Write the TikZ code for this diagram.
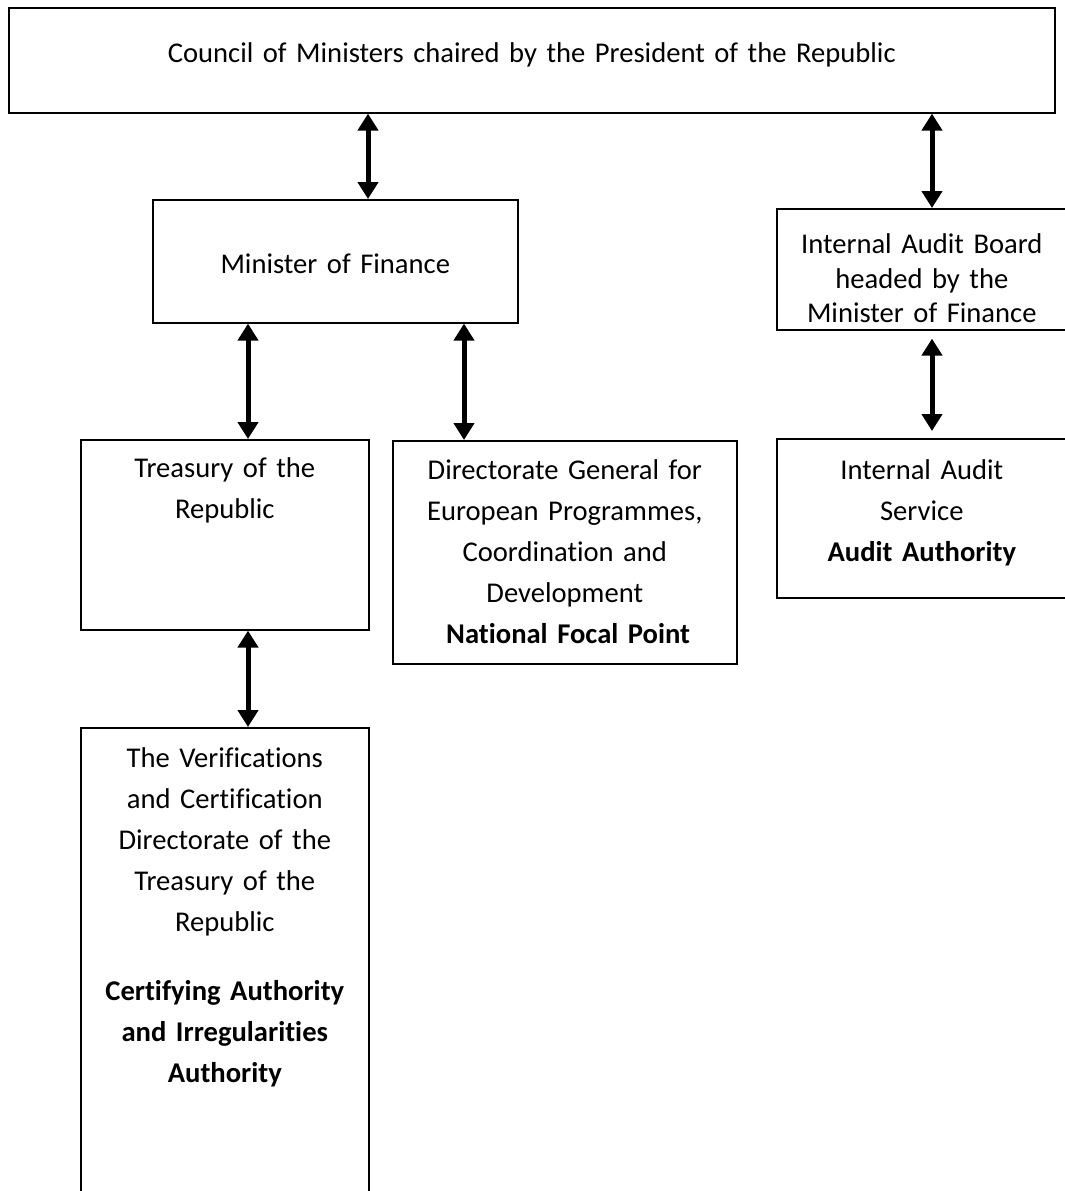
\documentclass[tikz,border=0pt]{standalone}
\usepackage{fontspec}
\setmainfont{Carlito}[Ligatures=NoCommon]
\usetikzlibrary{arrows.meta}

\begin{document}
\begin{tikzpicture}[x=0.5pt,y=-0.5pt,
	orgbox/.style={draw,line width=0.8pt,inner sep=0pt,align=center,anchor=north west,
		font=\fontsize{14.3}{20.5}\selectfont},
	link/.style={{Triangle[width=10pt,length=8.5pt]}-{Triangle[width=10pt,length=8.5pt]},line width=2.5pt}]
		\useasboundingbox (0,0) rectangle (1065,1191);
		\node at (8,7) [orgbox,text width=523pt,text height=27.5pt,text depth=25pt] (council) {Council of Ministers chaired by the President of the Republic};
		\node at (152,199) [orgbox,text width=182.5pt,text height=37pt,text depth=24.5pt] (minister) {Minister of Finance};
		\node at (776,208) [orgbox,text width=145pt,text height=22.5pt,text depth=38pt,font=\fontsize{14.3}{17.25}\selectfont] (board) {Internal Audit Board\\headed by the\\Minister of Finance};
		\node at (80,439) [orgbox,text width=144pt,text height=19pt,text depth=76pt] (treasury) {Treasury of the\\Republic};
		\node at (392,440) [orgbox,text width=172pt,text height=19.5pt,text depth=92pt] (dgep) {Directorate General for\\European Programmes,\\Coordination and\\Development\\\hspace*{3.3pt}\textbf{National Focal Point}};
		\node at (776,438) [orgbox,text width=145pt,text height=20.5pt,text depth=59pt] (service) {Internal Audit\\Service\\\textbf{Audit Authority}};
		\node at (80,727) [orgbox,text width=144pt,text height=20pt,text depth=240pt] (verif) {The Verifications\\and Certification\\Directorate of the\\Treasury of the\\Republic\\[14pt]\textbf{Certifying Authority}\\\textbf{and Irregularities}\\\textbf{Authority}};
		% x positions of the arrows
		\coordinate (a1) at (368,0);
		\coordinate (a2) at (932,0);
		\coordinate (a3) at (248,0);
		\coordinate (a4) at (464,0);
		\draw[link](council.south -| a1)--(minister.north -| a1);
		\draw[link](council.south -| a2)--(board.north -| a2);
		\draw[link](minister.south -| a3)--(treasury.north -| a3);
		\draw[link](minister.south -| a4)--(dgep.north -| a4);
		\draw[link,shorten <=4pt,shorten >=3.5pt](board.south -| a2)--(service.north -| a2);
		\draw[link](treasury.south -| a3)--(verif.north -| a3);
\end{tikzpicture}
\end{document}
